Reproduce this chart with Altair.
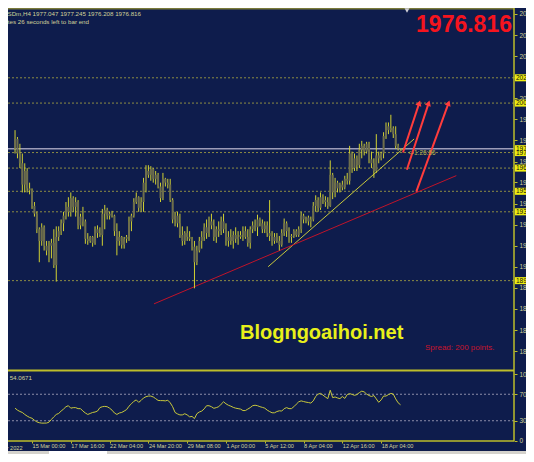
import altair as alt
import pandas as pd

# ---------------- data ----------------
opens = [1976.8, 1982.9, 1973.8, 1967.7, 1954.4, 1962.9, 1952.0, 1950.8, 1941.1, 1936.2,
         1926.5, 1919.2, 1927.7, 1916.2, 1913.2, 1916.2, 1918.0, 1904.1, 1921.7, 1925.3,
         1930.2, 1935.0, 1940.5, 1937.4, 1945.9, 1940.5, 1943.5, 1928.9, 1934.4, 1931.4,
         1920.5, 1919.2, 1921.7, 1918.0, 1926.5, 1924.1, 1922.9, 1936.2, 1938.6, 1935.0,
         1936.2, 1935.0, 1925.3, 1919.2, 1921.7, 1916.8, 1920.5, 1921.7, 1931.4, 1935.0,
         1943.5, 1946.5, 1939.9, 1943.5, 1955.6, 1962.9, 1960.5, 1964.1, 1958.0, 1960.5,
         1953.2, 1945.9, 1958.0, 1955.6, 1954.4, 1944.7, 1932.6, 1935.0, 1930.2, 1922.9,
         1919.2, 1924.1, 1921.7, 1920.5, 1915.6, 1905.9, 1913.2, 1919.2, 1921.7, 1927.7,
         1924.1, 1931.4, 1928.9, 1921.7, 1926.5, 1925.3, 1931.4, 1926.5, 1919.2, 1921.7,
         1919.2, 1922.9, 1920.5, 1921.7, 1922.9, 1925.3, 1921.7, 1918.0, 1926.5, 1928.9,
         1927.7, 1932.6, 1930.2, 1926.5, 1928.9, 1924.1, 1922.3, 1919.2, 1921.7, 1919.2,
         1916.8, 1924.1, 1930.2, 1925.3, 1921.7, 1922.3, 1925.3, 1922.9, 1926.5, 1935.0,
         1932.6, 1933.8, 1931.4, 1932.6, 1941.1, 1944.7, 1939.9, 1946.5, 1944.7, 1943.5,
         1941.1, 1960.5, 1949.5, 1955.6, 1952.0, 1954.4, 1952.6, 1958.0, 1956.8, 1973.8,
         1964.7, 1970.8, 1966.5, 1976.2, 1978.6, 1975.0, 1979.9, 1970.2, 1967.7, 1962.9,
         1972.6, 1970.8, 1973.8, 1984.7, 1990.8, 1988.4, 1989.6, 1985.9, 1978.6, 1977.047]
highs = [1988.4, 1984.1, 1979.9, 1973.8, 1967.7, 1964.7, 1955.6, 1952.0, 1943.5, 1937.4,
         1927.7, 1930.2, 1928.9, 1919.2, 1919.2, 1920.5, 1926.5, 1928.3, 1928.3, 1932.6,
         1937.4, 1943.5, 1946.5, 1949.5, 1947.1, 1946.5, 1944.7, 1936.2, 1940.5, 1932.6,
         1924.1, 1922.3, 1922.3, 1928.3, 1928.9, 1927.7, 1939.2, 1941.7, 1939.9, 1937.4,
         1938.0, 1935.6, 1930.2, 1925.3, 1922.3, 1921.7, 1922.9, 1934.4, 1936.2, 1945.9,
         1949.5, 1947.1, 1946.5, 1958.6, 1966.5, 1966.5, 1965.9, 1964.7, 1962.9, 1961.7,
         1955.6, 1961.7, 1958.6, 1958.0, 1958.0, 1945.9, 1937.4, 1937.4, 1936.2, 1928.3,
         1925.3, 1928.3, 1925.3, 1921.7, 1919.2, 1916.2, 1921.7, 1925.3, 1930.2, 1932.6,
         1934.4, 1936.2, 1932.6, 1928.3, 1931.4, 1934.4, 1936.2, 1930.2, 1925.3, 1926.5,
         1925.3, 1927.7, 1925.3, 1925.3, 1928.3, 1928.3, 1926.5, 1928.3, 1931.4, 1932.6,
         1935.6, 1933.8, 1932.6, 1931.4, 1931.4, 1944.7, 1925.3, 1924.1, 1924.1, 1922.3,
         1926.5, 1933.2, 1931.4, 1927.7, 1923.5, 1926.5, 1926.5, 1928.3, 1937.4, 1936.2,
         1934.4, 1935.0, 1934.4, 1943.5, 1947.7, 1946.5, 1949.5, 1948.3, 1947.1, 1946.5,
         1969.5, 1961.7, 1958.6, 1956.8, 1955.6, 1956.8, 1959.9, 1961.7, 1978.6, 1975.0,
         1973.8, 1972.6, 1979.9, 1981.7, 1979.9, 1981.1, 1981.1, 1975.0, 1970.8, 1985.9,
         1975.0, 1975.0, 1987.1, 1993.2, 1993.2, 1998.0, 1990.8, 1990.8, 1979.9, 1977.245]
lows = [1973.8, 1970.8, 1964.7, 1949.5, 1949.5, 1949.5, 1948.3, 1939.2, 1934.4, 1924.1,
        1905.9, 1916.2, 1913.2, 1910.2, 1905.9, 1908.3, 1902.3, 1893.8, 1919.2, 1922.9,
        1925.3, 1932.6, 1934.4, 1934.4, 1937.4, 1934.4, 1926.5, 1926.5, 1928.3, 1917.4,
        1916.8, 1918.0, 1915.6, 1916.8, 1921.1, 1921.7, 1916.2, 1926.5, 1932.6, 1932.6,
        1933.8, 1922.3, 1910.2, 1916.2, 1914.4, 1914.4, 1918.0, 1919.2, 1925.3, 1933.8,
        1942.3, 1937.4, 1937.4, 1937.4, 1949.5, 1958.6, 1956.8, 1955.6, 1954.4, 1952.0,
        1943.5, 1944.7, 1953.2, 1952.0, 1943.5, 1930.2, 1928.3, 1927.7, 1921.1, 1916.2,
        1916.8, 1919.2, 1919.2, 1913.2, 1889.6, 1904.1, 1912.0, 1914.4, 1919.2, 1920.5,
        1921.7, 1926.5, 1919.2, 1918.0, 1921.7, 1922.9, 1924.1, 1916.2, 1915.6, 1916.8,
        1914.4, 1918.0, 1916.8, 1920.5, 1919.2, 1920.5, 1915.6, 1914.4, 1924.1, 1925.3,
        1922.3, 1928.3, 1924.1, 1924.1, 1921.7, 1919.2, 1916.2, 1917.4, 1918.0, 1913.2,
        1915.6, 1922.3, 1921.7, 1918.0, 1918.0, 1921.1, 1921.7, 1921.7, 1924.1, 1930.2,
        1930.2, 1928.9, 1927.7, 1931.4, 1937.4, 1937.4, 1938.6, 1942.3, 1940.5, 1939.2,
        1940.5, 1945.3, 1946.5, 1949.5, 1949.5, 1950.8, 1951.4, 1954.4, 1954.4, 1961.7,
        1962.9, 1962.9, 1964.7, 1970.8, 1972.6, 1973.8, 1967.7, 1964.7, 1958.6, 1961.7,
        1967.7, 1969.5, 1970.8, 1982.9, 1985.9, 1987.1, 1983.5, 1976.8, 1975.6, 1976.208]
closes = [1982.9, 1973.8, 1967.7, 1954.4, 1962.9, 1952.0, 1950.8, 1941.1, 1936.2, 1926.5,
          1919.2, 1927.7, 1916.2, 1913.2, 1916.2, 1918.0, 1904.1, 1921.7, 1925.3, 1930.2,
          1935.0, 1940.5, 1937.4, 1945.9, 1940.5, 1943.5, 1928.9, 1934.4, 1931.4, 1920.5,
          1919.2, 1921.7, 1918.0, 1926.5, 1924.1, 1922.9, 1936.2, 1938.6, 1935.0, 1936.2,
          1935.0, 1925.3, 1919.2, 1921.7, 1916.8, 1920.5, 1921.7, 1931.4, 1935.0, 1943.5,
          1946.5, 1939.9, 1943.5, 1955.6, 1962.9, 1960.5, 1964.1, 1958.0, 1960.5, 1953.2,
          1945.9, 1958.0, 1955.6, 1954.4, 1944.7, 1932.6, 1935.0, 1930.2, 1922.9, 1919.2,
          1924.1, 1921.7, 1920.5, 1915.6, 1905.9, 1913.2, 1919.2, 1921.7, 1927.7, 1924.1,
          1931.4, 1928.9, 1921.7, 1926.5, 1925.3, 1931.4, 1926.5, 1919.2, 1921.7, 1919.2,
          1922.9, 1920.5, 1921.7, 1922.9, 1925.3, 1921.7, 1918.0, 1926.5, 1928.9, 1927.7,
          1932.6, 1930.2, 1926.5, 1928.9, 1924.1, 1922.3, 1919.2, 1921.7, 1919.2, 1916.8,
          1924.1, 1930.2, 1925.3, 1921.7, 1922.3, 1925.3, 1922.9, 1926.5, 1935.0, 1932.6,
          1933.8, 1931.4, 1932.6, 1941.1, 1944.7, 1939.9, 1946.5, 1944.7, 1943.5, 1941.1,
          1960.5, 1949.5, 1955.6, 1952.0, 1954.4, 1952.6, 1958.0, 1956.8, 1973.8, 1964.7,
          1970.8, 1966.5, 1976.2, 1978.6, 1975.0, 1979.9, 1970.2, 1967.7, 1962.9, 1972.6,
          1970.8, 1973.8, 1984.7, 1990.8, 1988.4, 1989.6, 1985.9, 1978.6, 1977.0, 1976.816]
rsi_values = [49, 46, 44, 42.5, 39.5, 37, 35, 33.7, 30.7, 28.3,
              27, 26.4, 26.4, 26.5, 27.8, 32, 35.9, 39.5, 41, 44.6,
              47.6, 51.2, 52.7, 49, 49.8, 49.8, 48.3, 48.3, 44.6, 41.7,
              39.5, 41, 42.5, 43.2, 44.6, 49.8, 51.2, 51.7, 51.2, 49,
              46, 41.7, 39.5, 41.7, 42.5, 44.6, 46.8, 52, 55.6, 59.3,
              61.5, 57.8, 60.7, 64.4, 66.3, 67.3, 67.3, 65.9, 63.4, 60.7,
              60.4, 60.4, 60, 61, 57.1, 51.2, 42.5, 40.3, 38.8, 38.8,
              40.6, 38.8, 35.9, 36.5, 33.2, 40.6, 43.2, 44.6, 47.9, 52.7,
              52.7, 51.2, 48.8, 49.8, 51.2, 55, 58.6, 55.6, 53.4, 52,
              50.2, 49, 48.3, 47.6, 45.4, 45.4, 47.6, 49.8, 52.7, 53.4,
              52.7, 51.2, 50.2, 49, 46, 43.9, 42, 42, 43.9, 45,
              44.6, 48.3, 49.8, 48.3, 48.3, 51.2, 55, 58.6, 60, 59,
              58.1, 57.5, 56.7, 60, 66.6, 70.3, 71.3, 68.8, 65.9, 63.4,
              76.1, 64.9, 65.9, 64.4, 63.4, 66.6, 63.7, 69.5, 71, 69.8,
              68.4, 69.5, 72.5, 74.7, 73.6, 70.3, 68.1, 66.6, 68.1, 63,
              57.8, 61.5, 67.3, 67.3, 69.5, 71.3, 70.3, 63, 57.1, 54.0671]

time_tick_index = [7, 23, 39, 55, 71, 87, 103, 119, 135, 151]
time_tick_labels = ["15 Mar 00:00", "17 Mar 16:00", "22 Mar 04:00", "24 Mar 20:00",
                    "29 Mar 08:00", "1 Apr 00:00", "5 Apr 12:00", "8 Apr 04:00",
                    "12 Apr 16:00", "18 Apr 04:00"]
price_ticks = [2061.0, 2047.8, 2034.7, 2021.5, 2008.3, 1995.2, 1982.0, 1968.8, 1955.7,
               1942.5, 1929.3, 1916.2, 1903.0, 1889.8, 1876.7, 1863.5, 1850.3]
level_prices = [2021.1, 2005.3, 1974.4, 1964.7, 1950.2, 1937.4, 1894.4]
bid_price = [1976.816]
rsi_levels = [70, 30]
rsi_ticks = [0, 30, 70, 100]

trend_i0 = [104.4, 57.3]
trend_p0 = [1903.1, 1879.9]
trend_i1 = [164.6, 182.0]
trend_p1 = [1982.9, 1960.0]
trend_name = ["support", "channel"]

arrow_i0 = [160.0, 161.6, 165.5]
arrow_p0 = [1974.4, 1963.7, 1950.0]
arrow_i1 = [166.7, 170.6, 178.8]
arrow_p1 = [2005.3, 2005.3, 2005.3]
arrow_angle = [18.5, 18.5, 20.4]

# ---------------- styling ----------------
BG = "#0e1c4c"
FRAME = "#bdbd2a"
WICK = "#d2d232"
BODY = "#6e6e4c"
LEVEL = "#8c8c44"
LABEL = "#d2d29a"
SMALL = "Liberation Sans"

W, H = 506, 433
x_scale = alt.Scale(domain=[-0.843, 203.73], nice=False, zero=False)
p_scale = alt.Scale(domain=[1839.2, 2064.7], range=[361, 0], nice=False, zero=False)
r_scale = alt.Scale(domain=[0, 100], range=[432.6, 366.4], nice=False, zero=False)

x_labels_js = "[" + ",".join("'%s'" % s for s in time_tick_labels) + "]"
x_idx_js = "[" + ",".join(str(v) for v in time_tick_index) + "]"
x_axis = alt.Axis(values=time_tick_index, labelExpr=x_labels_js + "[indexof(" + x_idx_js + ", datum.value)]",
                  labelAlign="left", labelBaseline="top", labelColor=LABEL, labelFont=SMALL,
                  labelFontSize=5.6, labelPadding=0.5, tickColor=FRAME, tickSize=2, domain=False,
                  grid=False, title=None, labelOverlap=False, labelFlush=False)
p_axis = alt.Axis(orient="right", values=price_ticks, labelExpr="format(datum.value, '.2f')",
                  labelColor=LABEL, labelFont=SMALL, labelFontSize=6.5, labelPadding=2,
                  tickColor=FRAME, tickSize=3, domain=False, grid=False, title=None,
                  labelOverlap=False, labelFlush=False)
r_axis = alt.Axis(orient="right", values=rsi_ticks, labelColor=LABEL, labelFont=SMALL,
                  labelFontSize=6.5, labelPadding=2, tickColor=FRAME, tickSize=3, domain=False,
                  grid=False, title=None, labelOverlap=False, labelFlush=False)

def X(field):
    return alt.X(field, type="quantitative", scale=x_scale, axis=x_axis)

def P(field):
    return alt.Y(field, type="quantitative", scale=p_scale, axis=p_axis)

bars = pd.DataFrame({"i": list(range(len(opens))), "o": opens, "h": highs, "l": lows, "c": closes})
rsi_df = pd.DataFrame({"i": list(range(len(rsi_values))), "rsi": rsi_values})
lev_df = pd.DataFrame({"p": level_prices})
box_df = pd.DataFrame({"p": level_prices + bid_price})
box_df["top"] = box_df["p"] + 2.2
box_df["bot"] = box_df["p"] - 2.2
bid_df = pd.DataFrame({"p": bid_price})
trend_df = pd.DataFrame({"i0": trend_i0, "p0": trend_p0, "i1": trend_i1, "p1": trend_p1, "n": trend_name})
arrow_df = pd.DataFrame({"i0": arrow_i0, "p0": arrow_p0, "i1": arrow_i1, "p1": arrow_p1, "a": arrow_angle})

levels = alt.Chart(lev_df).mark_rule(color=LEVEL, strokeDash=[2, 2], strokeWidth=1).encode(y=P("p"))
bid = alt.Chart(bid_df).mark_rule(color="#9c9cb8", strokeWidth=1.6).encode(y=P("p"))
wicks = alt.Chart(bars).mark_rule(color=WICK, strokeWidth=1).encode(x=X("i"), y=P("l"), y2="h")
bodies = alt.Chart(bars).mark_bar(color=BODY, size=2).encode(x=X("i"), y=P("o"), y2="c")
trends = alt.Chart(trend_df).mark_rule(strokeWidth=1).encode(
    x=X("i0"), y=P("p0"), x2="i1", y2="p1",
    color=alt.Color("n:N", scale=alt.Scale(domain=trend_name, range=["#c8c83c", "#c0142a"]), legend=None))
arrows = alt.Chart(arrow_df).mark_rule(color="#ff3c3c", strokeWidth=2).encode(
    x=X("i0"), y=P("p0"), x2="i1", y2="p1")
heads = alt.Chart(arrow_df).mark_point(shape="triangle-up", filled=True, color="#ff3c3c", size=40, opacity=1).encode(
    x=X("i1"), y=P("p1"), angle=alt.Angle("a:Q", scale=None))
boxes = alt.Chart(box_df).mark_rect(color="#eeee10").encode(
    x=alt.value(507), x2=alt.value(530), y=P("top"), y2="bot")
box_text = alt.Chart(box_df).mark_text(align="left", baseline="middle", color="#101010",
                                       font=SMALL, fontSize=6.5).encode(
    x=alt.value(508), y=P("p"), text=alt.Text("p:Q", format=".2f"))

price_layer = alt.layer(levels, bid, trends, wicks, bodies, arrows, heads, boxes, box_text)

rsi_lev = alt.Chart(pd.DataFrame({"v": rsi_levels})).mark_rule(
    color="#8c8ca8", strokeDash=[2, 2], strokeWidth=1).encode(
    y=alt.Y("v:Q", scale=r_scale, axis=r_axis))
rsi_line = alt.Chart(rsi_df).mark_line(color="#c8c83c", strokeWidth=1).encode(
    x=X("i"), y=alt.Y("rsi:Q", scale=r_scale, axis=r_axis))
rsi_layer = alt.layer(rsi_lev, rsi_line)

one = pd.DataFrame({"k": [0]})

def txt(s, x, y, align, size, color, font=SMALL, weight="normal", baseline="middle"):
    return alt.Chart(pd.DataFrame({"t": [s]})).mark_text(
        align=align, baseline=baseline, fontSize=size, color=color, font=font, fontWeight=weight).encode(
        text="t:N", x=alt.value(x), y=alt.value(y))

deco = [
    alt.Chart(one).mark_rule(color="#7a7a3a", strokeWidth=2).encode(x=alt.value(0), x2=alt.value(W), y=alt.value(0.5)),
    alt.Chart(one).mark_rule(color=FRAME, strokeWidth=1.5).encode(x=alt.value(W), y=alt.value(0), y2=alt.value(H)),
    alt.Chart(one).mark_rule(color=FRAME, strokeWidth=2).encode(x=alt.value(0), x2=alt.value(W), y=alt.value(362.5)),
    alt.Chart(one).mark_rule(color=FRAME, strokeWidth=1.5).encode(x=alt.value(0), x2=alt.value(W), y=alt.value(H)),
    alt.Chart(one).mark_rect(color="#d4d2cc").encode(x=alt.value(0), x2=alt.value(518), y=alt.value(443), y2=alt.value(446)),
    alt.Chart(one).mark_rect(color="#ffffff").encode(x=alt.value(41), x2=alt.value(99), y=alt.value(443), y2=alt.value(446)),
    alt.Chart(one).mark_point(shape="triangle-down", filled=True, color="#d0d0d8", size=25, opacity=1).encode(
        x=alt.value(399), y=alt.value(2.5)),
    txt("XAUUSDm,H4  1977.047 1977.245 1976.208 1976.816", 133, 6, "right", 6.2, LABEL),
    txt("1 hours 33 minutes 26 seconds left to bar end", 81, 13.6, "right", 6.2, LABEL),
    txt("1976.816", 504, 24, "right", 23, "#f5141e", font="Liberation Sans", weight="bold", baseline="alphabetic"),
    txt("Blogngoaihoi.net", 232, 330.6, "left", 20, "#e8f01a", font="Liberation Sans", weight="bold", baseline="alphabetic"),
    txt("Spread: 200 points.", 417, 339.5, "left", 8, "#c8142d", font="Liberation Sans"),
    txt("<-1:26:56", 400, 144.5, "left", 6.5, "#b4b44c"),
    txt("RSI(14) 54.0671", 24, 369.5, "right", 6.2, LABEL),
    txt("11 Mar 2022", 14.5, 437.5, "right", 5.6, LABEL, baseline="top"),
]

chart = alt.layer(price_layer, rsi_layer, *deco).resolve_scale(y="independent").properties(
    width=W, height=H, background=BG,
    padding={"left": 0, "top": 0, "right": 12, "bottom": 13},
    autosize=alt.AutoSizeParams(type="none"),
).configure_view(stroke=None)

chart.save("out.html", embed_options={"renderer": "svg", "actions": False})
